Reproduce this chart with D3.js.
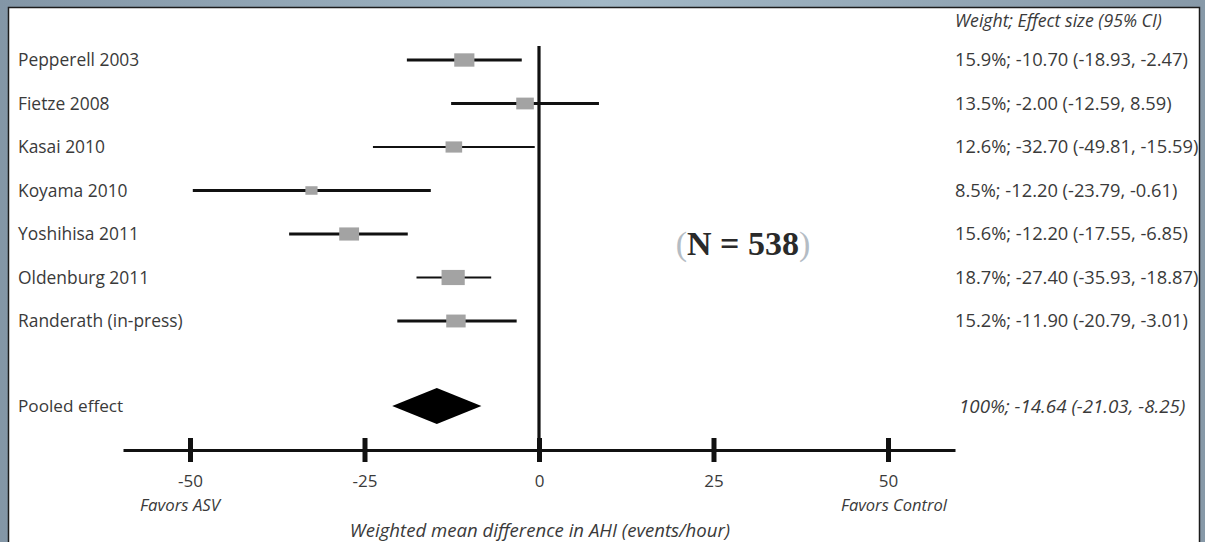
<!DOCTYPE html>
<html><head><meta charset="utf-8">
<script src="https://cdn.jsdelivr.net/npm/d3@7"></script>
<style>
html,body{margin:0;padding:0;overflow:hidden;}
body{width:1205px;height:542px;}
</style></head>
<body><svg id="c" width="1205" height="542"></svg>
<script>
// ---- data ----
const studies = ["Pepperell 2003","Fietze 2008","Kasai 2010","Koyama 2010","Yoshihisa 2011","Oldenburg 2011","Randerath (in-press)"];
// values as drawn in the plot
const estimates = [-10.7, -2.0, -12.2, -32.6, -27.2, -12.3, -11.9];
const lowerCI   = [-18.93, -12.59, -23.79, -49.6, -35.8, -17.55, -20.3];
const upperCI   = [-2.47, 8.59, -0.61, -15.5, -18.8, -6.85, -3.2];
const weights   = [15.9, 13.5, 12.6, 8.5, 15.6, 18.7, 15.2];
const rightLabels = ["15.9%; -10.70 (-18.93, -2.47)","13.5%; -2.00 (-12.59, 8.59)","12.6%; -32.70 (-49.81, -15.59)","8.5%; -12.20 (-23.79, -0.61)","15.6%; -12.20 (-17.55, -6.85)","18.7%; -27.40 (-35.93, -18.87)","15.2%; -11.90 (-20.79, -3.01)"];
const pooledLabel = "Pooled effect";
const pooled = {est: -14.64, lo: -21.03, hi: -8.25};
const pooledText = "100%; -14.64 (-21.03, -8.25)";
const headerText = "Weight; Effect size (95% CI)";
const tickValues = [-50, -25, 0, 25, 50];
const xDomain = [-59.6, 59.6];
const favorsLeft = "Favors ASV", favorsRight = "Favors Control";
const axisTitle = "Weighted mean difference in AHI (events/hour)";
const nText = "N = 538";

// ---- drawing ----
const svg = d3.select("#c");
const defs = svg.append("defs");
const g1 = defs.append("linearGradient").attr("id","bg").attr("x1","0").attr("x2","1").attr("y1","0").attr("y2","0");
g1.append("stop").attr("offset","0").attr("stop-color","#8396a6");
g1.append("stop").attr("offset","0.5").attr("stop-color","#a2b8c6");
g1.append("stop").attr("offset","1").attr("stop-color","#8799a8");
svg.append("rect").attr("width",1205).attr("height",542).attr("fill","url(#bg)");
svg.append("rect").attr("x",8.5).attr("y",7.5).attr("width",1191).attr("height",545)
  .attr("fill","#fff").attr("stroke","#1c1c1c").attr("stroke-width",1.5);

const font = "'Open Sans', Lato, sans-serif";
const tc = "#3a3a3a";
const x = d3.scaleLinear().domain(xDomain).range([123, 955]);
const y = d3.scalePoint().domain(studies).range([60, 321]);
const yPooled = 406, yAxis = 450;
const sqW = w => 3 + w * 1.08;
const sqH = w => 3 + w * 0.65;
const rx = 955;

// zero line
svg.append("line").attr("x1",x(0)).attr("x2",x(0)).attr("y1",46).attr("y2",yAxis)
  .attr("stroke","#111").attr("stroke-width",3.2);

// axis
const axis = d3.axisBottom(x).tickValues(tickValues).tickSize(0).tickFormat(d3.format("d"));
const ax = svg.append("g").attr("transform",`translate(0,${yAxis})`).call(axis);
ax.select(".domain").attr("stroke","#111").attr("stroke-width",3.2);
ax.selectAll(".tick line").remove();
ax.selectAll(".tick").append("line").attr("y1",-12).attr("y2",12).attr("stroke","#111").attr("stroke-width",5);
ax.selectAll(".tick text").attr("y",31).attr("dy","0.35em").attr("font-family",font).attr("font-size",17).attr("fill",tc)
  .text(d => d < 0 ? "-" + Math.abs(d) : d);

// study rows
const rows = svg.append("g").selectAll("g").data(studies).join("g");
rows.append("text").attr("x",18).attr("y",d=>y(d)).attr("dy","0.35em")
  .attr("font-family",font).attr("font-size",17.4).attr("fill",tc).text(d=>d);
rows.append("line").attr("x1",(d,i)=>x(lowerCI[i])).attr("x2",(d,i)=>x(upperCI[i]))
  .attr("y1",d=>y(d)).attr("y2",d=>y(d)).attr("stroke","#111").attr("stroke-width",(d,i)=> (i===2||i===5)?2.2:3);
rows.append("rect")
  .attr("x",(d,i)=>x(estimates[i]) - sqW(weights[i])/2)
  .attr("y",(d,i)=>y(d) - sqH(weights[i])/2)
  .attr("width",(d,i)=>sqW(weights[i])).attr("height",(d,i)=>sqH(weights[i]))
  .attr("fill","#a3a3a3");
rows.append("text").attr("x",rx).attr("y",d=>y(d)).attr("dy","0.35em")
  .attr("font-family",font).attr("font-size",18.3).attr("fill",tc).text((d,i)=>rightLabels[i]);

// header
svg.append("text").attr("x",rx).attr("y",21).attr("dy","0.35em").attr("font-family",font)
  .attr("font-style","italic").attr("font-size",17.7).attr("fill",tc).text(headerText);

// pooled
svg.append("text").attr("x",18).attr("y",yPooled).attr("dy","0.35em").attr("font-family",font)
  .attr("font-size",17.2).attr("fill",tc).text(pooledLabel);
svg.append("path").attr("d", d3.line()([[x(pooled.lo),yPooled],[x(pooled.est),yPooled-18],[x(pooled.hi),yPooled],[x(pooled.est),yPooled+18]]) + "Z")
  .attr("fill","#000");
svg.append("text").attr("x",959).attr("y",yPooled).attr("dy","0.35em").attr("font-family",font)
  .attr("font-style","italic").attr("font-size",18.8).attr("fill",tc).text(pooledText);

// favors labels & title
svg.append("text").attr("x",x(-50)-10).attr("y",505).attr("dy","0.35em").attr("text-anchor","middle")
  .attr("font-family",font).attr("font-style","italic").attr("font-size",16.8).attr("fill",tc).text(favorsLeft);
svg.append("text").attr("x",x(50)+6).attr("y",505).attr("dy","0.35em").attr("text-anchor","middle")
  .attr("font-family",font).attr("font-style","italic").attr("font-size",16.5).attr("fill",tc).text(favorsRight);
svg.append("text").attr("x",540).attr("y",530).attr("dy","0.35em").attr("text-anchor","middle")
  .attr("font-family",font).attr("font-style","italic").attr("font-size",18.6).attr("fill",tc).text(axisTitle);

// N annotation
const nt = svg.append("text").attr("x",743).attr("y",243).attr("dy","0.35em").attr("text-anchor","middle")
  .attr("font-family","'Liberation Serif', 'DejaVu Serif', serif").attr("font-weight","bold").attr("font-size",34).attr("fill","#2a2a2a");
nt.append("tspan").attr("fill","#b4bcc4").attr("font-weight","normal").text("(");
nt.append("tspan").text(nText);
nt.append("tspan").attr("fill","#b4bcc4").attr("font-weight","normal").text(")");
</script>
</body></html>
